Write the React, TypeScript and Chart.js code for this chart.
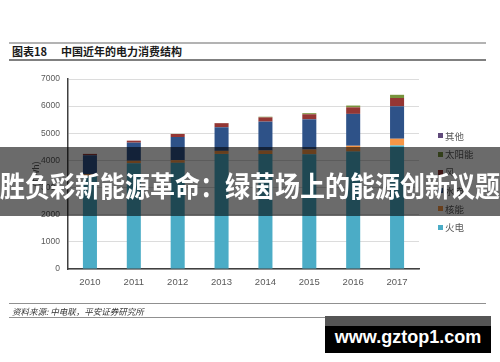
import React, { useEffect, useRef } from "react";
import { Chart, registerables } from "chart.js";

Chart.register(...registerables);

const years = ["2010", "2011", "2012", "2013", "2014", "2015", "2016", "2017"];
const thermal = [3417, 3900, 3911, 4240, 4234, 4231, 4327, 4551];
const nuclear = [75, 87, 98, 112, 130, 171, 213, 248];
const hydro = [700, 668, 855, 870, 1066, 1113, 1175, 1195];
const wind = [49, 74, 110, 150, 156, 186, 241, 306];
const solar = [1, 1, 4, 8, 24, 40, 66, 118];
const other = [0, 0, 0, 0, 0, 0, 0, 0];

const seriesNames = ["火电", "核能", "水电", "风电", "太阳能", "其他"];
const legendLabels = ["其他", "太阳能", "风", "水电", "核能", "火电"];
const seriesColors = ["#4bacc6", "#f79646", "#2e5288", "#943634", "#77933c", "#604a7b"];
const seriesData = [thermal, nuclear, hydro, wind, solar, other];

const yTicksMax = 7000;
const yStep = 1000;
const yTitle = "(TWh)";
const titleNo = "图表18";
const titleText = "中国近年的电力消费结构";
const sourceText = "资料来源: 中电联，平安证券研究所";
const bannerText = "胜负彩新能源革命：绿茵场上的能源创新议题";
const watermark = "www.gztop1.com";

const tickFont = '"Liberation Sans", "Noto Sans CJK SC", sans-serif';
const cjkFont = '"Noto Sans CJK SC", "Liberation Sans", sans-serif';

export default function App() {
  const canvasRef = useRef<HTMLCanvasElement | null>(null);

  useEffect(() => {
    const canvas = canvasRef.current;
    if (!canvas) return;
    const chart = new Chart(canvas, {
      type: "bar",
      data: {
        labels: years,
        datasets: seriesNames.map((name, i) => ({
          label: name,
          data: seriesData[i],
          backgroundColor: seriesColors[i],
          borderWidth: 0,
          categoryPercentage: 0.8,
          barPercentage: 0.4,
        })),
      },
      options: {
        animation: false,
        responsive: false,
        maintainAspectRatio: false,
        devicePixelRatio: 1,
        layout: { padding: { left: 27, top: 79, right: 81, bottom: 63 } },
        plugins: {
          legend: { display: false },
          tooltip: { enabled: false },
          title: { display: false },
        },
        scales: {
          x: {
            stacked: true,
            grid: { display: false, drawTicks: false },
            border: { display: true, color: "#404040", width: 1.5 },
            ticks: {
              color: "#595959",
              font: { family: tickFont, size: 9.5 },
              padding: 8,
              maxRotation: 0,
            },
            afterFit: (scale: any) => {
              scale.height = 30;
            },
          },
          y: {
            stacked: true,
            min: 0,
            max: yTicksMax,
            grid: { color: "#dcdcdc", lineWidth: 1, drawTicks: false },
            border: { display: true, color: "#404040", width: 1.5 },
            ticks: {
              stepSize: yStep,
              color: "#595959",
              font: { family: tickFont, size: 8.5 },
              padding: 8,
              callback: (v: any) => String(v),
            },
            title: {
              display: true,
              text: yTitle,
              color: "#595959",
              font: { family: tickFont, size: 9 },
            },
            afterFit: (scale: any) => {
              scale.width = 41;
            },
          },
        },
      },
    });
    return () => chart.destroy();
  }, []);

  const legendTop = 135.7;
  const legendStep = 18.3;

  return (
    <div
      style={{
        position: "fixed",
        left: 0,
        top: 0,
        width: 500,
        height: 362,
        background: "#ffffff",
        overflow: "hidden",
        fontFamily: cjkFont,
      }}
    >
      <div style={{ position: "absolute", left: 9, top: 42, width: 477, height: 2, background: "#b3b3b3" }} />
      <div
        style={{
          position: "absolute",
          left: 12,
          top: 44,
          height: 15,
          lineHeight: "15px",
          fontSize: 11,
          fontWeight: 700,
          color: "#1a1a1a",
          whiteSpace: "nowrap",
        }}
      >
        {titleNo}
      </div>
      <div
        style={{
          position: "absolute",
          left: 61,
          top: 44,
          height: 15,
          lineHeight: "15px",
          fontSize: 11,
          fontWeight: 700,
          color: "#1a1a1a",
          whiteSpace: "nowrap",
        }}
      >
        {titleText}
      </div>
      <div style={{ position: "absolute", left: 9, top: 59, width: 477, height: 1.5, background: "#808080" }} />

      <canvas
        ref={canvasRef}
        width={500}
        height={362}
        style={{ position: "absolute", left: 0, top: 0, width: 500, height: 362 }}
      />

      {legendLabels.map((lab, i) => {
        const idx = seriesNames.length - 1 - i;
        const cy = legendTop + i * legendStep;
        return (
          <div key={lab} style={{ position: "absolute", left: 438, top: cy - 7, height: 14, whiteSpace: "nowrap" }}>
            <span
              style={{
                position: "absolute",
                left: 0,
                top: 4.5,
                width: 5,
                height: 5,
                background: seriesColors[idx],
              }}
            />
            <span
              style={{
                position: "absolute",
                left: 7,
                top: 0,
                lineHeight: "14px",
                fontSize: 9.5,
                color: "#595959",
              }}
            >
              {lab}
            </span>
          </div>
        );
      })}

      <div style={{ position: "absolute", left: 9, top: 303, width: 477, height: 1, background: "#909090" }} />
      <div
        style={{
          position: "absolute",
          left: 12,
          top: 305,
          lineHeight: "12px",
          fontSize: 8.5,
          fontStyle: "italic",
          color: "#333333",
          whiteSpace: "nowrap",
        }}
      >
        {sourceText}
      </div>
      <div style={{ position: "absolute", left: 9, top: 317, width: 477, height: 1, background: "#909090" }} />

      <div
        style={{
          position: "absolute",
          left: 0,
          top: 147,
          width: 500,
          height: 69,
          background: "rgba(0,0,0,0.58)",
        }}
      />
      <div
        style={{
          position: "absolute",
          left: 0,
          top: 167,
          width: 500,
          height: 36,
          lineHeight: "36px",
          textAlign: "center",
          fontSize: 25,
          fontWeight: 700,
          color: "#ffffff",
          whiteSpace: "nowrap",
          transform: "scaleY(1.12)",
        }}
      >
        {bannerText}
      </div>

      <div style={{ position: "absolute", left: 325, top: 316, width: 166, height: 37, background: "#000000" }}>
        <div style={{ position: "absolute", left: 0, top: 0, width: 166, height: 10, background: "#555555" }} />
        <div
          style={{
            position: "absolute",
            left: 0,
            top: 10,
            width: 166,
            height: 22,
            lineHeight: "22px",
            textAlign: "center",
            fontFamily: '"Liberation Sans", Arial, sans-serif',
            fontWeight: 700,
            fontSize: 18,
            color: "#ffffff",
            whiteSpace: "nowrap",
          }}
        >
          {watermark}
        </div>
      </div>
    </div>
  );
}
